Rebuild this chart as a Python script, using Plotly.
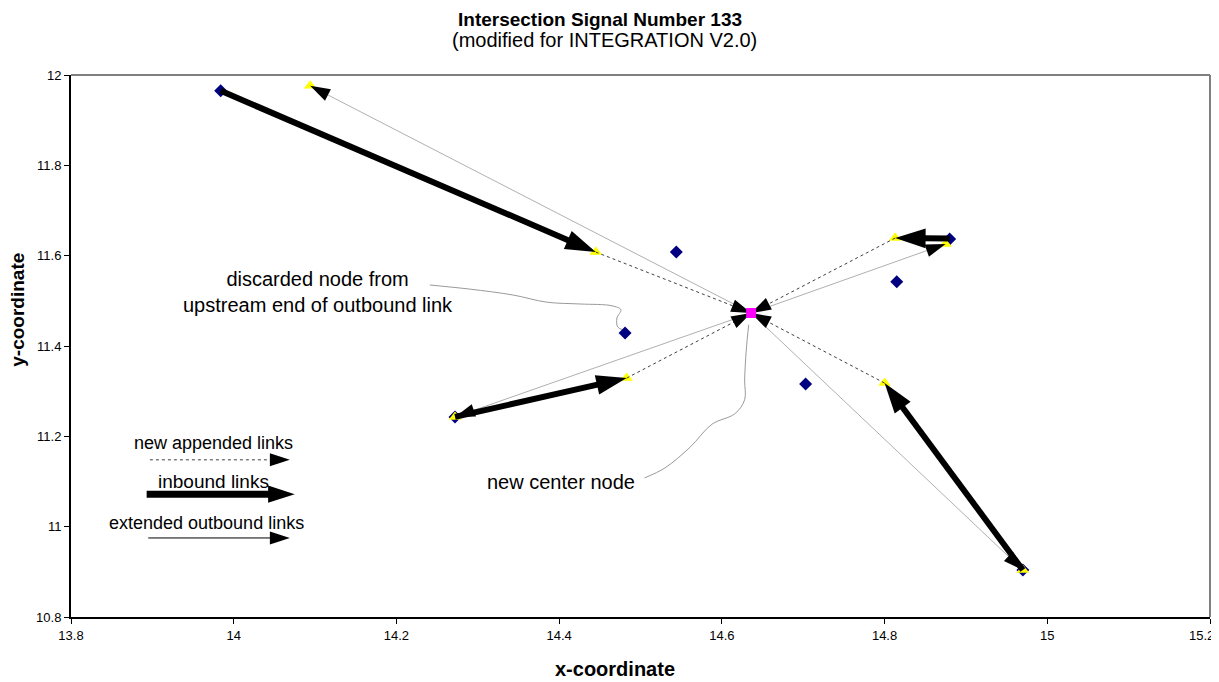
import plotly.graph_objects as go

# ---------------- data ----------------
center_x = [14.636]
center_y = [11.473]

# original network nodes (navy diamonds)
orig_x = [13.984, 14.880, 14.272, 14.970, 14.544, 14.481, 14.815, 14.703]
orig_y = [11.965, 11.637, 11.243, 10.904, 11.608, 11.429, 11.542, 11.316]

# new / relocated nodes (yellow triangles)
new_x = [14.094, 14.445, 14.813, 14.875, 14.272, 14.483, 14.800, 14.970]
new_y = [11.976, 11.608, 11.639, 11.626, 11.243, 11.329, 11.318, 10.904]

# inbound links (thick): from upstream node to downstream node
in_x0 = [13.984, 14.880, 14.272, 14.970]
in_y0 = [11.965, 11.638, 11.243, 10.904]
in_x1 = [14.445, 14.813, 14.483, 14.800]
in_y1 = [11.608, 11.639, 11.329, 11.318]

# extended outbound links (thin grey): from center node to these nodes
out_x1 = [14.094, 14.875, 14.272, 14.970]
out_y1 = [11.976, 11.626, 11.243, 10.904]

# new appended links (dotted): from inbound-link ends to center node
app_x0 = [14.445, 14.813, 14.483, 14.800]
app_y0 = [11.608, 11.639, 11.329, 11.318]

# callout connector curves
conn1_x = [14.241, 14.290, 14.343, 14.385, 14.426, 14.465, 14.476, 14.471, 14.472, 14.478]
conn1_y = [11.535, 11.526, 11.513, 11.497, 11.493, 11.489, 11.480, 11.462, 11.442, 11.436]
conn2_x = [14.505, 14.530, 14.561, 14.588, 14.616, 14.628, 14.628, 14.630, 14.633]
conn2_y = [11.108, 11.130, 11.176, 11.227, 11.250, 11.281, 11.325, 11.391, 11.447]

# legend sample arrows (x0, x1, y)
leg_app = ([13.897, 14.069], [11.148, 11.148])
leg_in = ([13.893, 14.075], [11.072, 11.072])
leg_out = ([13.895, 14.069], [10.975, 10.975])

x_ticks = [13.8, 14.0, 14.2, 14.4, 14.6, 14.8, 15.0, 15.2]
x_tick_labels = ["13.8", "14", "14.2", "14.4", "14.6", "14.8", "15", ""]
x_last_label = "15.2"   # drawn right-aligned at the plot edge so it is not clipped
y_ticks = [10.8, 11.0, 11.2, 11.4, 11.6, 11.8, 12.0]
y_tick_labels = ["10.8", "11", "11.2", "11.4", "11.6", "11.8", "12"]

x_range = [13.8, 15.2]
y_range = [10.8, 12.0]

FONT = "Liberation Sans, Arial, sans-serif"

fig = go.Figure()


def arrow_trace(xs, ys, color, width, dash, head):
    return go.Scatter(
        x=xs, y=ys, mode="lines+markers",
        line=dict(color=color, width=width, dash=dash),
        marker=dict(symbol=["circle", "arrow"], size=[0, head], color="black",
                    opacity=1, angleref="previous", line=dict(width=0)),
        hoverinfo="skip", showlegend=False,
    )


# connector curves
fig.add_trace(go.Scatter(x=conn1_x, y=conn1_y, mode="lines",
                         line=dict(color="#9a9a9a", width=1, shape="spline"),
                         hoverinfo="skip", showlegend=False))
fig.add_trace(go.Scatter(x=conn2_x, y=conn2_y, mode="lines",
                         line=dict(color="#9a9a9a", width=1, shape="spline"),
                         hoverinfo="skip", showlegend=False))

# nodes
fig.add_trace(go.Scatter(x=orig_x, y=orig_y, mode="markers",
                         marker=dict(symbol="diamond", size=10, color="#000080"),
                         hoverinfo="skip", showlegend=False))
fig.add_trace(go.Scatter(x=new_x, y=new_y, mode="markers",
                         marker=dict(symbol="triangle-up", size=11, color="#FFFF00"),
                         hoverinfo="skip", showlegend=False))

# extended outbound links
for i in range(len(out_x1)):
    fig.add_trace(arrow_trace([center_x[0], out_x1[i]], [center_y[0], out_y1[i]],
                              "#b0b0b0", 1, "solid", 21))

# new appended links
for i in range(len(app_x0)):
    fig.add_trace(arrow_trace([app_x0[i], center_x[0]], [app_y0[i], center_y[0]],
                              "#404040", 1, "dot", 21))

# inbound links
for i in range(len(in_x0)):
    fig.add_trace(arrow_trace([in_x0[i], in_x1[i]], [in_y0[i], in_y1[i]],
                              "black", 6, "solid", 32))

# center node
fig.add_trace(go.Scatter(x=center_x, y=center_y, mode="markers",
                         marker=dict(symbol="square", size=10, color="#FF00FF"),
                         hoverinfo="skip", showlegend=False))

# legend samples
fig.add_trace(arrow_trace(leg_app[0], leg_app[1], "#404040", 1, "dot", 21))
fig.add_trace(arrow_trace(leg_in[0], leg_in[1], "black", 7, "solid", 28))
fig.add_trace(arrow_trace(leg_out[0], leg_out[1], "black", 1, "solid", 21))

annotations = [
    dict(text="<b>Intersection Signal Number 133</b>", x=0.4645, y=1.1033,
         font=dict(size=19)),
    dict(text="(modified for INTEGRATION V2.0)", x=0.468, y=1.0646, font=dict(size=20)),
    dict(text="<b>x-coordinate</b>", x=0.4776, y=-0.096, font=dict(size=20)),
    dict(text="<b>y-coordinate</b>", x=-0.0465, y=0.567, textangle=-90,
         font=dict(size=19)),
]
for a in annotations:
    a.update(xref="paper", yref="paper", showarrow=False,
             xanchor="center", yanchor="middle")
annotations.append(dict(text=x_last_label, x=1.0055, y=-0.0335, xref="paper",
                        yref="paper", xanchor="right", yanchor="middle",
                        showarrow=False, font=dict(size=13)))

data_texts = [
    ("discarded node from<br>upstream end of outbound link", 14.104, 11.52, 20),
    ("new center node", 14.402, 11.099, 20),
    ("new appended links", 13.975, 11.185, 18),
    ("inbound links", 13.975, 11.101, 19),
    ("extended outbound links", 13.967, 11.008, 18),
]
for t, x, y, s in data_texts:
    annotations.append(dict(text=t, x=x, y=y, xref="x", yref="y", showarrow=False,
                            xanchor="center", yanchor="middle",
                            font=dict(size=s), align="center"))

# the page body adds an 8px offset, so the figure is sized to the rest of the window
fig.update_layout(
    width=1211, height=674,
    margin=dict(l=63, r=9, t=67, b=65, autoexpand=False),
    paper_bgcolor="white", plot_bgcolor="white",
    font=dict(family=FONT, color="black"),
    annotations=annotations,
    shapes=[
        dict(type="line", xref="paper", yref="paper", x0=0, x1=1, y0=1, y1=1,
             line=dict(color="#808080", width=2)),
        dict(type="line", xref="paper", yref="paper", x0=1, x1=1, y0=0, y1=1,
             line=dict(color="#808080", width=2)),
    ],
    xaxis=dict(range=x_range, tickmode="array", tickvals=x_ticks,
               ticktext=x_tick_labels, showgrid=False, zeroline=False,
               showline=True, linecolor="black", linewidth=2, ticks="outside",
               ticklen=5, tickcolor="black", tickfont=dict(size=13),
               ticklabeloverflow="allow", automargin=False),
    yaxis=dict(range=y_range, tickmode="array", tickvals=y_ticks,
               ticktext=y_tick_labels, showgrid=False, zeroline=False,
               showline=True, linecolor="black", linewidth=2, ticks="outside",
               ticklen=5, tickcolor="black", tickfont=dict(size=13),
               automargin=False),
)

fig.write_html("out.html")
